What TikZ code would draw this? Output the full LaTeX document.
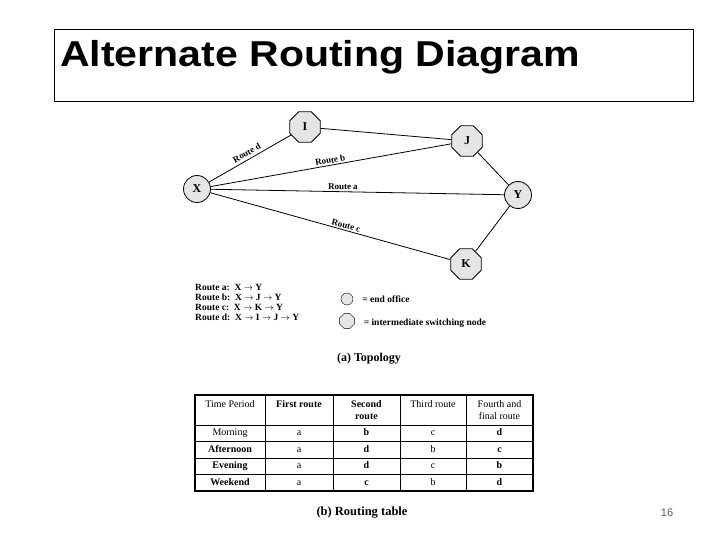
\documentclass[tikz,border=0pt]{standalone}
\usepackage{fontspec}
\setmainfont{Liberation Serif}
\newfontfamily\slidefont{Liberation Sans}
\usetikzlibrary{shapes.geometric,positioning}

\begin{document}
\begin{tikzpicture}[x=1pt, y=-1pt,
  endnode/.style={circle, draw, thick, fill=gray!20, minimum size=27pt, inner sep=0pt, font=\fontsize{12}{12}\selectfont\bfseries},
  swnode/.style={regular polygon, regular polygon sides=8, draw, thick, fill=gray!20, minimum size=33pt, inner sep=0pt, font=\fontsize{12}{12}\selectfont\bfseries},
  link/.style={line width=0.8pt},
  routelbl/.style={font=\fontsize{9}{9}\selectfont\bfseries, sloped, inner sep=1.5pt},
  keytxt/.style={font=\fontsize{9.5}{10}\selectfont\bfseries, inner sep=0pt},
  cell/.style={font=\fontsize{10}{12}\selectfont, align=center, inner sep=0pt},
  rowcell/.style={font=\fontsize{10}{12}\selectfont, inner sep=0pt, text height=7pt, text depth=2pt},
]
\useasboundingbox (0,0) rectangle (720,540);

% Title box
\draw[line width=1pt] (54,30) rectangle (693,102);
\node[anchor=base west, inner sep=0pt, font=\slidefont\fontsize{36}{36}\selectfont\bfseries] (title) at (60,67) {\scalebox{1.14}[1]{Alternate Routing Diagram}};

% Topology nodes
\node[swnode] (I) at (305,127) {I};
\node[swnode] (J) at (467,141) {J};
\node[endnode] (X) at (197,189) {X};
\node[endnode] (Y) at (518,195) {Y};
\node[swnode] (K) at (466,264) {K};

% Links with route labels
\draw[link] (X) -- (I) node[routelbl, pos=0.5, above, inner sep=3pt] (lblD) {Route d};
\draw[link] (X) -- (J) node[routelbl, pos=0.5, above] (lblB) {Route b};
\draw[link] (X) -- (Y) node[routelbl, pos=0.45, above] (lblA) {Route a};
\draw[link] (X) -- (K) node[routelbl, pos=0.56, above] (lblC) {Route c};
\draw[link] (I) -- (J);
\draw[link] (J) -- (Y);
\draw[link] (Y) -- (K);

% Route list
\node[keytxt, anchor=north west, align=left] (routes) at (195,284)
  {Route a:\ \ X $\rightarrow$ Y\\
   Route b:\ \ X $\rightarrow$ J $\rightarrow$ Y\\
   Route c:\ \ X $\rightarrow$ K $\rightarrow$ Y\\
   Route d:\ \ X $\rightarrow$ I $\rightarrow$ J $\rightarrow$ Y};

% Key
\node[endnode, thin, minimum size=12pt] (keyend) at (347,299) {};
\node[swnode, thin, minimum size=16pt] (keysw) at (347,321) {};
\node[keytxt, right=9pt of keyend] (keyendtxt) {= end office};
\node[keytxt, right=9pt of keysw, yshift=-2pt] (keyswtxt) {= intermediate switching node};

\node[font=\fontsize{12}{12}\selectfont\bfseries] (topocap) at (369,359) {(a) Topology};

% Routing table grid
\draw[line width=1.6pt] (195,395) rectangle (533,491);
\foreach \x in {265,333,400,466}
  \draw[line width=0.8pt] (\x,395) -- (\x,491);
\foreach \y in {425,441.5,458,474.5}
  \draw[line width=0.8pt] (195,\y) -- (533,\y);

% Table header
\node[cell, anchor=north] (hdrTime) at (230,400) {Time Period};
\node[cell, anchor=north] (hdrFirst) at (299,400) {\bfseries First route};
\node[cell, anchor=north] (hdrSecond) at (366.5,400) {\bfseries Second\\\bfseries route};
\node[cell, anchor=north] (hdrThird) at (433,400) {Third route};
\node[cell, anchor=north] (hdrFourth) at (499.5,400) {Fourth and\\final route};

% Table rows
\foreach \per/\fst/\snd/\thd/\fth [count=\r] in {Morning/a/b/c/d, \textbf{Afternoon}/a/d/b/c, \textbf{Evening}/a/d/c/b, \textbf{Weekend}/a/c/b/d}
{
  \node[rowcell] (per\r) at (230,416.75+16.5*\r) {\per};
  \node[rowcell] (first\r) at (299,416.75+16.5*\r) {\fst};
  \node[rowcell] (second\r) at (366.5,416.75+16.5*\r) {\textbf{\snd}};
  \node[rowcell] (third\r) at (433,416.75+16.5*\r) {\thd};
  \node[rowcell] (fourth\r) at (499.5,416.75+16.5*\r) {\textbf{\fth}};
}

\node[font=\fontsize{12.5}{12.5}\selectfont\bfseries] (tablecap) at (362,513) {(b) Routing table};

% Slide number
\node[font=\slidefont\fontsize{11}{11}\selectfont, text=black!65] (pagenum) at (667,513) {16};
\end{tikzpicture}
\end{document}
